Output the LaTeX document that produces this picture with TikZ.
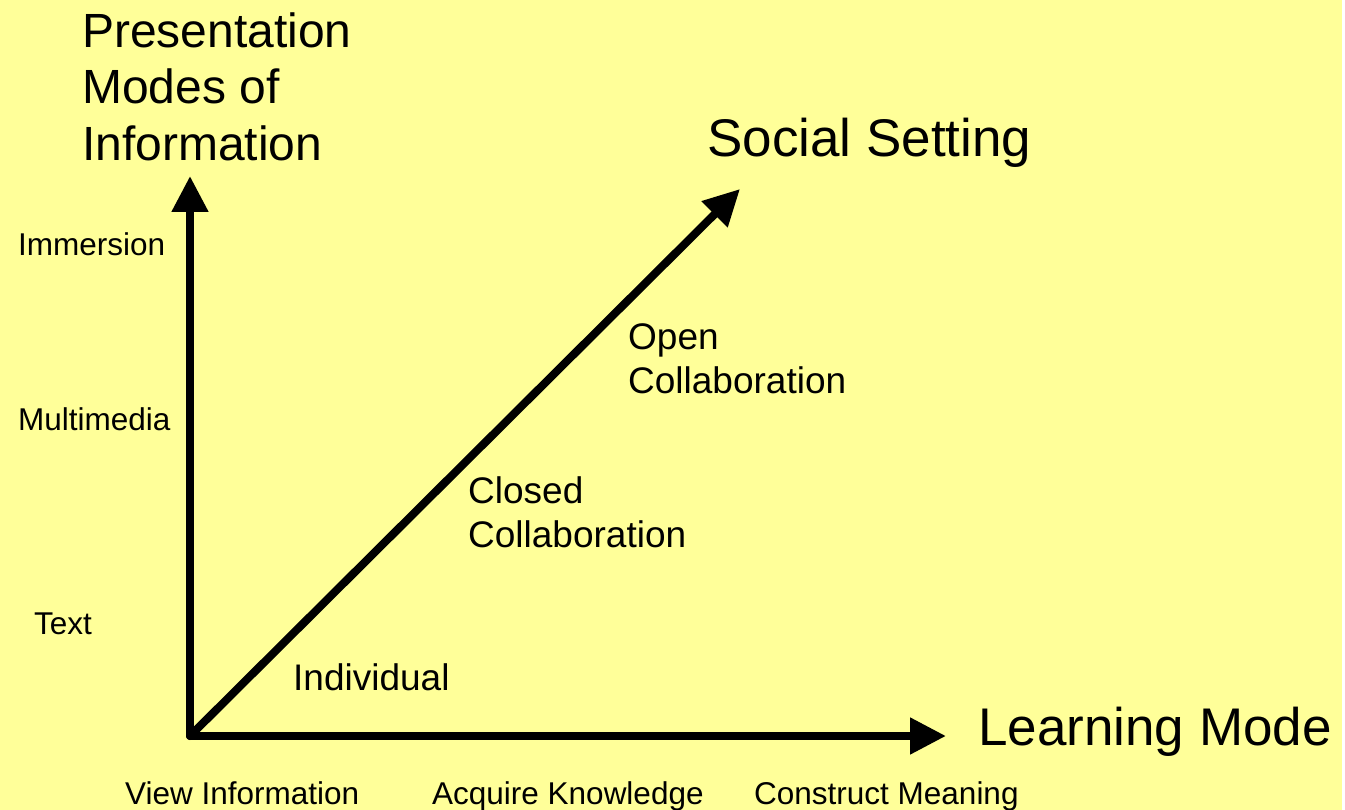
\documentclass[tikz,border=0pt]{standalone}
\usepackage{fontspec}
\setmainfont{Liberation Sans}
\usetikzlibrary{arrows.meta}
\definecolor{bgyellow}{HTML}{FFFF99}
\tikzset{
  axis/.style={line width=8pt, line cap=round, -{Triangle[length=36pt,width=35pt]}},
  lbl/.style={anchor=base west, inner sep=0pt, text=black},
  big/.style={lbl, font=\fontsize{53}{60}\selectfont},
  title/.style={lbl, font=\fontsize{48}{56}\selectfont},
  mid/.style={lbl, font=\fontsize{37}{44}\selectfont},
  small/.style={lbl, font=\fontsize{31.5}{38}\selectfont}
}
\begin{document}
\begin{tikzpicture}[x=1pt,y=-1pt]
\fill[white] (0,0) rectangle (1345,810);
\fill[bgyellow] (0,0) rectangle (1342,810);
\useasboundingbox (0,0) rectangle (1345,810);
% axes
\coordinate (O) at (190,736);
\coordinate (Ytip) at (190,176);
\coordinate (Xtip) at (946,736);
\coordinate (Ztip) at (740,189);
\draw[axis] (O) -- (Ytip);
\draw[axis] (O) -- (Xtip);
\draw[axis] (O) -- (Ztip);
% axis titles
\node[title] (t1) at (82,48) {Presentation};
\node[title] (t2) at (82,104) {Modes of};
\node[title] (t3) at (82,161) {Information};
\node[big] (ss) at (707,157) {Social Setting};
\node[big] (lm) at (978,745) {Learning Mode};
% vertical axis levels
\node[small] (imm) at (18,256) {Immersion};
\node[small] (mm) at (18,431) {Multimedia};
\node[small] (tx) at (34,634) {Text};
% diagonal axis levels
\node[mid] (op1) at (628,350) {Open};
\node[mid] (op2) at (628,394) {Collaboration};
\node[mid] (cl1) at (468,503) {Closed};
\node[mid] (cl2) at (468,547) {Collaboration};
\node[mid] (ind) at (293,690) {Individual};
% horizontal axis levels
\node[small] (vi) at (125,804) {View Information};
\node[small] (ak) at (432,804) {Acquire Knowledge};
\node[small] (cm) at (754,804) {Construct Meaning};
\end{tikzpicture}
\end{document}
